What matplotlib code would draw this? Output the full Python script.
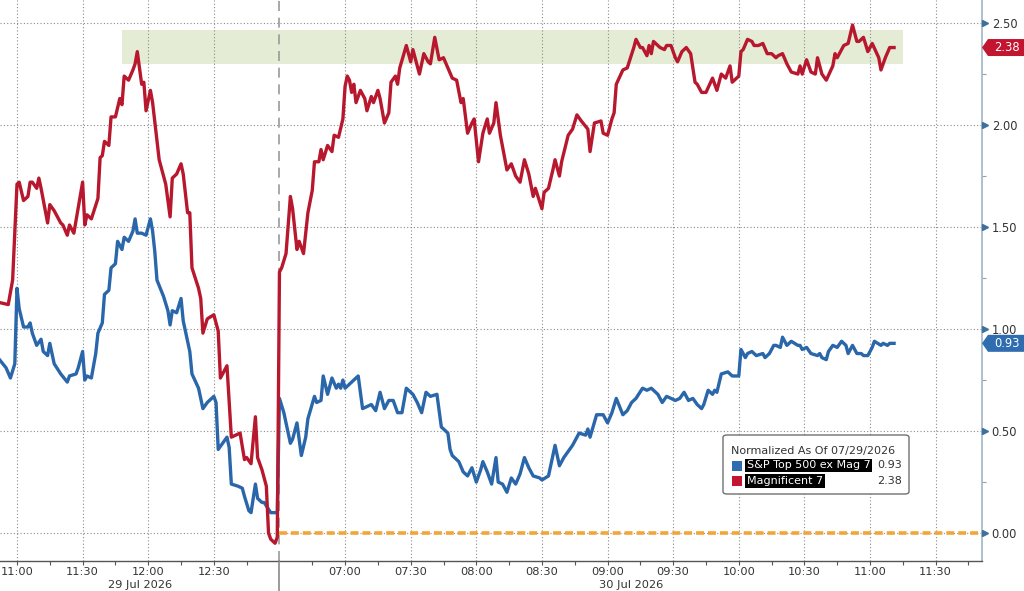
import matplotlib
matplotlib.use("Agg")
import matplotlib.pyplot as plt
import matplotlib.patches as mpatches
from matplotlib import font_manager as fm
import numpy as np

# ---------------- data ----------------
# day 1 (29 Jul 2026): minutes after 11:00 ; day 2 (30 Jul 2026): minutes after 06:30
day_labels = ["29 Jul 2026", "30 Jul 2026"]
series_names = ["S&P Top 500 ex Mag 7", "Magnificent 7"]
legend_title = "Normalized As Of 07/29/2026"

red_d1_t = [-8, -4, -2, 0, 1, 3, 5, 6, 7, 9, 10, 11, 14, 15, 17, 20, 21, 23, 24, 26,
            30, 31, 32, 34, 37, 38, 39, 40, 42, 43, 45, 47, 48, 49, 51, 53, 54, 55, 56, 57,
            58, 59, 61, 62, 65, 68, 70, 71, 73, 75, 76, 78, 79, 80, 83, 84, 85, 87, 90, 92,
            93, 96, 98, 100, 102, 104, 105, 107, 109, 110, 112, 114, 115, 116, 118, 119]
red_d1_v = [1.13, 1.12, 1.24, 1.71, 1.72, 1.63, 1.65, 1.72, 1.72, 1.69, 1.74, 1.69, 1.52, 1.61, 1.58, 1.52, 1.51, 1.46, 1.51, 1.47,
            1.72, 1.51, 1.56, 1.54, 1.64, 1.84, 1.85, 1.92, 1.90, 2.04, 2.04, 2.13, 2.10, 2.24, 2.22, 2.27, 2.30, 2.36, 2.28, 2.20,
            2.21, 2.07, 2.17, 2.11, 1.83, 1.71, 1.55, 1.74, 1.76, 1.81, 1.76, 1.57, 1.57, 1.30, 1.20, 1.15, 0.98, 1.05, 1.07, 0.99,
            0.76, 0.82, 0.47, 0.48, 0.49, 0.36, 0.37, 0.34, 0.57, 0.37, 0.31, 0.23, 0.00, -0.03, -0.05, -0.02]

red_d2_t = [0, 1, 3, 5, 6, 8, 9, 11, 13, 15, 16, 18, 19, 20, 22, 24, 25, 27, 29, 30,
            31, 32, 33, 34, 35, 37, 39, 40, 42, 43, 45, 46, 48, 50, 51, 53, 54, 55, 58, 60,
            61, 62, 64, 66, 68, 69, 71, 73, 75, 77, 79, 81, 83, 84, 86, 88, 89, 91, 93, 95,
            96, 98, 99, 101, 104, 106, 108, 110, 112, 114, 116, 117, 120, 121, 123, 125, 126, 128, 129, 132,
            134, 136, 138, 141, 142, 144, 147, 148, 150, 152, 153, 154, 157, 159, 162, 163, 165, 166, 168, 169,
            170, 171, 174, 176, 177, 179, 181, 182, 184, 186, 188, 190, 191, 193, 195, 198, 200, 202, 204, 206,
            207, 210, 211, 212, 214, 216, 217, 219, 221, 223, 225, 227, 228, 230, 232, 234, 237, 238, 239, 241,
            243, 245, 246, 248, 250, 253, 254, 255, 258, 260, 262, 264, 265, 267, 269, 271, 274, 275, 277, 279,
            281]
red_d2_v = [1.28, 1.30, 1.37, 1.65, 1.59, 1.39, 1.43, 1.37, 1.57, 1.68, 1.82, 1.82, 1.88, 1.83, 1.90, 1.87, 1.95, 1.94, 2.03, 2.19,
            2.24, 2.22, 2.16, 2.20, 2.11, 2.17, 2.13, 2.07, 2.14, 2.11, 2.17, 2.13, 2.01, 2.06, 2.21, 2.24, 2.20, 2.28, 2.39, 2.31,
            2.37, 2.33, 2.25, 2.35, 2.31, 2.30, 2.43, 2.32, 2.33, 2.28, 2.23, 2.22, 2.11, 2.13, 1.96, 2.01, 2.03, 1.82, 1.96, 2.03,
            1.96, 2.01, 2.11, 1.95, 1.78, 1.81, 1.75, 1.72, 1.83, 1.76, 1.65, 1.69, 1.59, 1.67, 1.69, 1.78, 1.83, 1.75, 1.82, 1.95,
            1.98, 2.05, 2.02, 1.98, 1.87, 2.01, 2.02, 1.96, 1.95, 2.03, 2.06, 2.20, 2.27, 2.28, 2.38, 2.42, 2.38, 2.38, 2.34, 2.39,
            2.35, 2.41, 2.38, 2.37, 2.39, 2.39, 2.33, 2.31, 2.36, 2.38, 2.35, 2.21, 2.20, 2.16, 2.16, 2.23, 2.17, 2.25, 2.23, 2.29,
            2.21, 2.24, 2.36, 2.37, 2.42, 2.41, 2.39, 2.39, 2.40, 2.35, 2.35, 2.33, 2.34, 2.35, 2.30, 2.26, 2.25, 2.29, 2.25, 2.32,
            2.26, 2.25, 2.33, 2.25, 2.22, 2.29, 2.35, 2.33, 2.39, 2.40, 2.49, 2.41, 2.41, 2.43, 2.36, 2.40, 2.33, 2.27, 2.33, 2.38,
            2.38]

blue_d1_t = [-8, -5, -3, -1, 0, 1, 3, 5, 6, 7, 9, 11, 12, 14, 15, 17, 20, 23, 24, 27,
             28, 30, 31, 32, 34, 36, 37, 39, 40, 42, 43, 45, 46, 48, 49, 51, 53, 54, 55, 57,
             59, 61, 62, 63, 64, 67, 69, 70, 71, 73, 75, 76, 78, 79, 80, 83, 85, 87, 90, 91,
             92, 94, 96, 97, 98, 101, 103, 104, 106, 107, 109, 110, 112, 113, 116, 118, 119]
blue_d1_v = [0.85, 0.81, 0.76, 0.83, 1.20, 1.10, 1.01, 1.01, 1.03, 0.98, 0.92, 0.95, 0.89, 0.87, 0.93, 0.83, 0.78, 0.74, 0.77, 0.78,
             0.81, 0.89, 0.75, 0.77, 0.76, 0.88, 0.98, 1.03, 1.17, 1.19, 1.30, 1.32, 1.43, 1.39, 1.45, 1.43, 1.48, 1.54, 1.47, 1.47,
             1.46, 1.54, 1.48, 1.38, 1.24, 1.16, 1.09, 1.02, 1.09, 1.08, 1.15, 1.04, 0.94, 0.89, 0.78, 0.71, 0.61, 0.64, 0.67, 0.64,
             0.41, 0.44, 0.47, 0.42, 0.24, 0.23, 0.22, 0.18, 0.11, 0.10, 0.24, 0.17, 0.15, 0.15, 0.10, 0.10, 0.10]

blue_d2_t = [0, 2, 5, 6, 8, 10, 12, 13, 16, 17, 19, 20, 22, 24, 26, 27, 28, 29, 30, 33,
             36, 38, 40, 42, 44, 46, 48, 50, 52, 54, 56, 58, 61, 63, 65, 67, 69, 72, 74, 77,
             78, 79, 82, 84, 86, 88, 90, 92, 93, 95, 97, 99, 100, 102, 104, 106, 108, 110, 112, 114,
             116, 119, 120, 123, 126, 128, 130, 132, 134, 137, 140, 141, 142, 145, 148, 150, 152, 154, 157, 159,
             161, 163, 166, 168, 170, 173, 175, 177, 179, 181, 183, 185, 187, 189, 191, 193, 194, 196, 198, 199,
             200, 202, 205, 207, 210, 211, 213, 214, 216, 218, 221, 222, 224, 226, 227, 229, 230, 232, 234, 237,
             238, 239, 241, 243, 246, 247, 248, 250, 251, 253, 255, 257, 259, 260, 262, 264, 266, 267, 269, 271,
             272, 275, 276, 278, 279, 281]
blue_d2_v = [0.66, 0.59, 0.44, 0.46, 0.54, 0.38, 0.47, 0.56, 0.67, 0.64, 0.65, 0.77, 0.68, 0.76, 0.71, 0.73, 0.71, 0.75, 0.71, 0.74,
             0.77, 0.61, 0.62, 0.63, 0.60, 0.69, 0.61, 0.65, 0.65, 0.59, 0.59, 0.71, 0.68, 0.64, 0.59, 0.69, 0.67, 0.68, 0.52, 0.49,
             0.41, 0.38, 0.35, 0.30, 0.28, 0.32, 0.25, 0.31, 0.35, 0.30, 0.24, 0.37, 0.25, 0.24, 0.20, 0.27, 0.24, 0.29, 0.37, 0.32,
             0.28, 0.27, 0.26, 0.28, 0.43, 0.33, 0.37, 0.40, 0.43, 0.49, 0.48, 0.51, 0.47, 0.58, 0.58, 0.54, 0.59, 0.66, 0.58, 0.60,
             0.64, 0.66, 0.71, 0.70, 0.71, 0.68, 0.64, 0.67, 0.66, 0.65, 0.66, 0.69, 0.65, 0.66, 0.63, 0.61, 0.63, 0.70, 0.68, 0.70,
             0.69, 0.78, 0.79, 0.77, 0.77, 0.90, 0.86, 0.88, 0.89, 0.87, 0.88, 0.86, 0.88, 0.92, 0.92, 0.91, 0.96, 0.92, 0.94, 0.92,
             0.92, 0.90, 0.91, 0.88, 0.87, 0.88, 0.86, 0.85, 0.89, 0.92, 0.91, 0.94, 0.92, 0.88, 0.92, 0.88, 0.88, 0.87, 0.87, 0.91,
             0.94, 0.92, 0.93, 0.92, 0.93, 0.93]

# session layout: day1 11:00 -> x=0, day1 ends 13:00 (x=120) where day2 starts 06:30
day1_ticks = ["11:00", "11:30", "12:00", "12:30"]
day2_ticks = ["07:00", "07:30", "08:00", "08:30", "09:00", "09:30", "10:00", "10:30", "11:00", "11:30"]
day_break = 120
y_ticks = [0.0, 0.5, 1.0, 1.5, 2.0, 2.5]

# highlighted range (shaded band) in session minutes / value
band_x = [48, 405]
band_y = [2.30, 2.465]

# ---------------- style ----------------
RED = "#b8182e"
BLUE = "#2a66aa"
ORANGE = "#f2a637"

names = {f.name for f in fm.fontManager.ttflist}
narrow = "Liberation Sans Narrow" if "Liberation Sans Narrow" in names else "DejaVu Sans"
plt.rcParams["font.family"] = ["DejaVu Sans"]

W, H = 1024, 591
fig = plt.figure(figsize=(W / 100, H / 100), dpi=100)
ax = fig.add_axes([0, 30 / H, 982 / W, 561 / H])
ax.set_xlim(-7.77, 441.2)
ax.set_ylim(-0.137, 2.613)


def session_x(t, day):
    t = np.asarray(t, dtype=float)
    return t if day == 1 else t + day_break


# shaded band
ax.fill_between(band_x, band_y[0], band_y[1], color="#e4ecd6", zorder=0.5, lw=0)

# grid
for yv in y_ticks:
    ax.axhline(yv, color="#8a8a8a", lw=0.8, ls=(0, (1, 2)), zorder=0.6)
maj_x = [i * 30 for i in range(len(day1_ticks))] + [150 + i * 30 for i in range(len(day2_ticks))]
for xv in maj_x:
    ax.axvline(xv, color="#8a8a8a", lw=0.8, ls=(0, (1, 2)), zorder=0.6)

# day break separator
ax.axvline(day_break, color="#9a9a9a", lw=1.2, ls=(0, (6, 4)), zorder=0.7)
ax.plot([day_break, day_break], [0, -30 / 561], color="#8a8a8a", lw=1.2,
        transform=ax.get_xaxis_transform(), clip_on=False, zorder=3)

# zero reference (orange dashed) from day 2 onwards
ax.hlines(0, day_break, 441.2, colors=ORANGE, lw=2.6, linestyles=[(0, (2.2, 1.1))], zorder=1.5)

# lines
bx = np.concatenate([session_x(blue_d1_t, 1), session_x(blue_d2_t, 2)])
bv = np.concatenate([blue_d1_v, blue_d2_v])
rx = np.concatenate([session_x(red_d1_t, 1), session_x(red_d2_t, 2)])
rv = np.concatenate([red_d1_v, red_d2_v])
ax.plot(bx, bv, color=BLUE, lw=2.4, zorder=2, solid_joinstyle="round")
ax.plot(rx, rv, color=RED, lw=2.4, zorder=2.5, solid_joinstyle="round")

# spines
for s in ["left", "top"]:
    ax.spines[s].set_visible(False)
ax.spines["bottom"].set_color("#555555")
ax.spines["bottom"].set_linewidth(1.0)
ax.spines["right"].set_color("#a8bccc")
ax.spines["right"].set_linewidth(1.3)

# y axis (right)
ax.yaxis.tick_right()
ax.set_yticks(y_ticks)
ax.set_yticklabels([f"{v:.2f}" for v in y_ticks], fontsize=8.3, color="#333333")
ax.set_yticks(np.arange(0.25, 2.6, 0.5), minor=True)
ax.tick_params(axis="y", which="major", length=0, pad=7)
ax.tick_params(axis="y", which="minor", length=3, color="#8aa0b5", width=0.8)
ax.plot(np.full(len(y_ticks), 1.0 + 3 / 982), y_ticks, ls="none", marker=">", ms=4.5,
        color="#3f6f9c", transform=ax.get_yaxis_transform(), clip_on=False, zorder=4)

# x axis
ax.set_xticks(maj_x)
ax.set_xticklabels(day1_ticks + day2_ticks, fontsize=8.2, color="#333333", family=[narrow, "DejaVu Sans"])
minor_x = [15 + i * 30 for i in range(4)] + [135 + i * 30 for i in range(11)]
ax.set_xticks(minor_x, minor=True)
ax.tick_params(axis="x", which="both", length=3, color="#555555", width=0.8, pad=1)

# day labels under the axis
xt = ax.get_xaxis_transform()
d1_center = (ax.get_xlim()[0] + day_break) / 2
d2_center = (day_break + ax.get_xlim()[1]) / 2
ax.text(d1_center, -24.5 / 561, day_labels[0], transform=xt, ha="center", va="center",
        fontsize=8.2, color="#333333", family=[narrow, "DejaVu Sans"])
ax.text(d2_center, -24.5 / 561, day_labels[1], transform=xt, ha="center", va="center",
        fontsize=8.2, color="#333333", family=[narrow, "DejaVu Sans"])

# value tags on the right axis
yt = ax.get_yaxis_transform()
hh = 8.5 / 204
x0 = 1.0
x1 = 1.0 + 6 / 982
x2 = W / 982 + 0.01
for val, col in [(blue_d2_v[-1], "#2f6db0"), (red_d2_v[-1], "#c3152f")]:
    poly = mpatches.Polygon([[x0, val], [x1, val + hh], [x2, val + hh], [x2, val - hh], [x1, val - hh]],
                            closed=True, transform=yt, clip_on=False, fc=col, ec="none", zorder=5)
    ax.add_patch(poly)
    ax.text((x1 + W / 982) / 2 + 0.001, val, f"{val:.2f}", transform=yt, ha="center", va="center",
            color="white", fontsize=8.3, zorder=6, clip_on=False)

# legend box (figure pixel coordinates)
def fx(px):
    return px / W


def fy(py):
    return 1 - py / H


box = mpatches.FancyBboxPatch((fx(723), fy(494)), fx(909) - fx(723), fy(435) - fy(494),
                              boxstyle="round,pad=0,rounding_size=0.004", transform=fig.transFigure,
                              fc="white", ec="#707070", lw=1.0, zorder=10)
fig.patches.append(box)
fig.text(fx(731), fy(451), legend_title, fontsize=8, color="#333333", ha="left", va="center", zorder=11)
rows = [(series_names[0], blue_d2_v[-1], "#2f6db0", 465.5), (series_names[1], red_d2_v[-1], "#c3152f", 481)]
for name, val, col, py in rows:
    sq = mpatches.Rectangle((fx(732), fy(py + 5)), fx(10), 10 / H, transform=fig.transFigure,
                            fc=col, ec="none", zorder=11)
    fig.patches.append(sq)
    fig.text(fx(747), fy(py), name, fontsize=8, color="white", ha="left", va="center", zorder=11,
             bbox=dict(fc="black", ec="none", pad=1.2))
    fig.text(fx(902), fy(py), f"{val:.2f}", fontsize=8, color="#333333", ha="right", va="center", zorder=11)

fig.savefig("out.png", dpi=100, facecolor="white")
